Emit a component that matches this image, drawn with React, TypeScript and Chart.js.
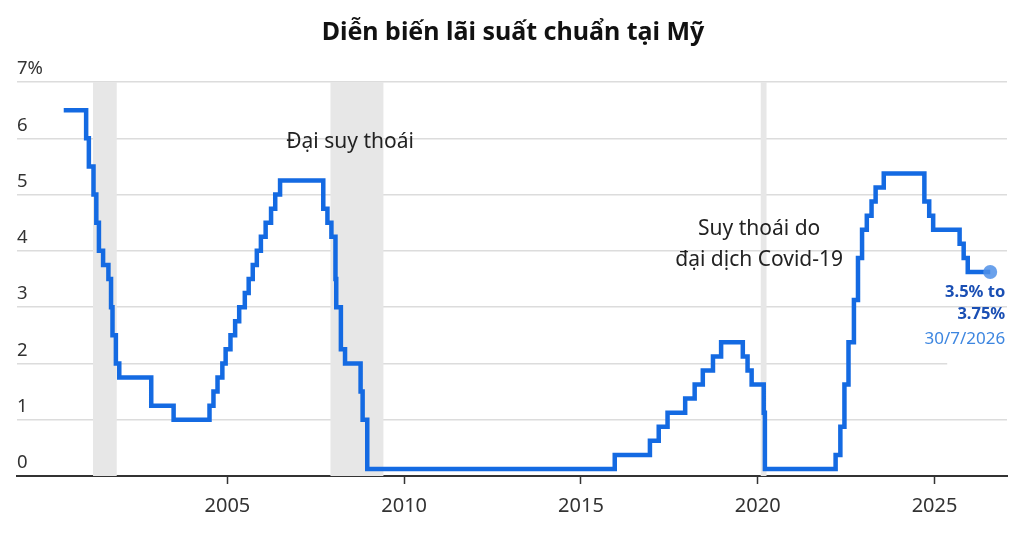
import { useEffect, useRef } from 'react';
import { Chart, registerables } from 'chart.js';

Chart.register(...registerables);

const FONT = "'Noto Sans', 'Open Sans', sans-serif";

// ngày Fed thay đổi lãi suất (điểm giữa của biên độ mục tiêu)
const CHANGE_DATES = [
  '2000-05-16', '2001-01-03', '2001-01-31', '2001-03-20', '2001-04-18', '2001-05-15', '2001-06-27',
  '2001-08-21', '2001-09-17', '2001-10-02', '2001-11-06', '2001-12-11', '2002-11-06', '2003-06-25',
  '2004-06-30', '2004-08-10', '2004-09-21', '2004-11-10', '2004-12-14', '2005-02-02', '2005-03-22',
  '2005-05-03', '2005-06-30', '2005-08-09', '2005-09-20', '2005-11-01', '2005-12-13', '2006-01-31',
  '2006-03-28', '2006-05-10', '2006-06-29', '2007-09-18', '2007-10-31', '2007-12-11', '2008-01-22',
  '2008-01-30', '2008-03-18', '2008-04-30', '2008-10-08', '2008-10-29', '2008-12-16', '2015-12-16',
  '2016-12-14', '2017-03-15', '2017-06-14', '2017-12-13', '2018-03-21', '2018-06-13', '2018-09-26',
  '2018-12-19', '2019-07-31', '2019-09-18', '2019-10-30', '2020-03-03', '2020-03-15', '2022-03-16',
  '2022-05-04', '2022-06-15', '2022-07-27', '2022-09-21', '2022-11-02', '2022-12-14', '2023-02-01',
  '2023-03-22', '2023-05-03', '2023-07-26', '2024-09-18', '2024-11-07', '2024-12-18', '2025-09-17',
  '2025-10-29', '2025-12-10', '2026-07-30',
];
const RATES = [
  6.5, 6.0, 5.5, 5.0, 4.5, 4.0, 3.75,
  3.5, 3.0, 2.5, 2.0, 1.75, 1.25, 1.0,
  1.25, 1.5, 1.75, 2.0, 2.25, 2.5, 2.75,
  3.0, 3.25, 3.5, 3.75, 4.0, 4.25, 4.5,
  4.75, 5.0, 5.25, 4.75, 4.5, 4.25, 3.5,
  3.0, 2.25, 2.0, 1.5, 1.0, 0.125, 0.375,
  0.625, 0.875, 1.125, 1.375, 1.625, 1.875, 2.125,
  2.375, 2.125, 1.875, 1.625, 1.125, 0.125, 0.375,
  0.875, 1.625, 2.375, 3.125, 3.875, 4.375, 4.625,
  4.875, 5.125, 5.375, 4.875, 4.625, 4.375, 4.125,
  3.875, 3.625, 3.625,
];

const RECESSIONS = [
  ['2001-03-15', '2001-11-15'],
  ['2007-12-01', '2009-06-01'],
  ['2020-02-01', '2020-04-01'],
];

const X_TICKS = [2005, 2010, 2015, 2020, 2025];
const Y_TICKS = [0, 1, 2, 3, 4, 5, 6, 7];

const TITLE = 'Diễn biến lãi suất chuẩn tại Mỹ';
const NOTES = [
  { lines: ['Đại suy thoái'], x: 2008.47, y: 5.94 },
  { lines: ['Suy thoái do', 'đại dịch Covid-19'], x: 2020.04, y: 4.38 },
];
const END_LABEL = ['3.5% to', '3.75%', '30/7/2026'];

function toYear(s: string) {
  const [y, m, d] = s.split('-').map(Number);
  const start = Date.UTC(y, 0, 1);
  const end = Date.UTC(y + 1, 0, 1);
  return y + (Date.UTC(y, m - 1, d) - start) / (end - start);
}

const overlay = {
  id: 'overlay',
  beforeDatasetsDraw(chart: any) {
    const { ctx, chartArea, scales: { x } } = chart;
    ctx.save();
    ctx.fillStyle = '#e7e7e7';
    RECESSIONS.forEach(([a, b]) => {
      const x0 = x.getPixelForValue(toYear(a));
      const x1 = x.getPixelForValue(toYear(b));
      ctx.fillRect(x0, chartArea.top, x1 - x0, chartArea.bottom - chartArea.top);
    });
    ctx.restore();
  },
  afterDraw(chart: any) {
    const { ctx, width, scales: { x, y } } = chart;
    ctx.save();
    ctx.textBaseline = 'middle';
    ctx.fillStyle = '#111';
    ctx.textAlign = 'center';
    ctx.font = `bold 25px ${FONT}`;
    ctx.fillText(TITLE, width / 2 + 1, 33);

    ctx.font = `21px ${FONT}`;
    ctx.fillStyle = '#222';
    NOTES.forEach(n => {
      const px = x.getPixelForValue(n.x);
      const py = y.getPixelForValue(n.y);
      n.lines.forEach((l, i) => ctx.fillText(l, px, py + i * 31));
    });

    const lastX = x.getPixelForValue(toYear(CHANGE_DATES[CHANGE_DATES.length - 1]));
    const lastY = y.getPixelForValue(RATES[RATES.length - 1]);
    const rx = lastX + 15;
    ctx.fillStyle = '#fff';
    ctx.fillRect(rx - 58, lastY + 54, 64, 42);
    ctx.textAlign = 'right';
    ctx.font = `bold 16.5px ${FONT}`;
    ctx.fillStyle = '#1a4fb4';
    ctx.fillText(END_LABEL[0], rx, lastY + 20);
    ctx.fillText(END_LABEL[1], rx, lastY + 42);
    ctx.font = `17px ${FONT}`;
    ctx.fillStyle = '#3d86e0';
    ctx.fillText(END_LABEL[2], rx, lastY + 67);
    ctx.restore();
  },
};

export default function App() {
  const ref = useRef<HTMLCanvasElement>(null);

  useEffect(() => {
    document.body.style.margin = '0';
    if (!ref.current) return;
    const points = CHANGE_DATES.map((d, i) => ({ x: toYear(d), y: RATES[i] }));
    const last = points.length - 1;

    const chart = new Chart(ref.current, {
      type: 'line',
      data: {
        datasets: [{
          data: points,
          stepped: 'before',
          borderColor: '#146ae2',
          borderWidth: 4.5,
          borderJoinStyle: 'miter',
          borderCapStyle: 'butt',
          pointRadius: (c: any) => (c.dataIndex === last ? 7 : 0),
          pointHoverRadius: 0,
          pointBorderWidth: 0,
          pointBackgroundColor: 'rgba(80,145,232,0.85)',
        }],
      },
      options: {
        animation: false,
        responsive: true,
        maintainAspectRatio: false,
        layout: { padding: { top: 82, left: 17, right: 17, bottom: 7 } },
        plugins: { legend: { display: false }, tooltip: { enabled: false }, title: { display: false } },
        scales: {
          x: {
            type: 'linear',
            min: 1999.05,
            max: 2027.05,
            afterBuildTicks: (s: any) => { s.ticks = X_TICKS.map(v => ({ value: v })); },
            grid: { drawOnChartArea: false, drawTicks: true, tickLength: 8, tickColor: '#333', tickWidth: 1.5 },
            border: { display: true, color: '#333', width: 2 },
            ticks: { color: '#333', padding: 10, font: { family: FONT, size: 20 }, callback: (v: any) => String(v) },
          },
          y: {
            min: 0,
            max: 7,
            afterBuildTicks: (s: any) => { s.ticks = Y_TICKS.map(v => ({ value: v })); },
            grid: { color: '#dcdcdc', lineWidth: 1.5, drawTicks: false },
            border: { display: false },
            ticks: {
              mirror: true, padding: 0, labelOffset: -13, color: '#333',
              font: { family: FONT, size: 18.5 },
              callback: (v: any) => (v === 7 ? '7%' : String(v)),
            },
          },
        },
      },
      plugins: [overlay],
    });

    return () => chart.destroy();
  }, []);

  return (
    <div style={{ position: 'relative', width: 1024, height: 535, background: '#fff' }}>
      <canvas ref={ref} />
    </div>
  );
}
